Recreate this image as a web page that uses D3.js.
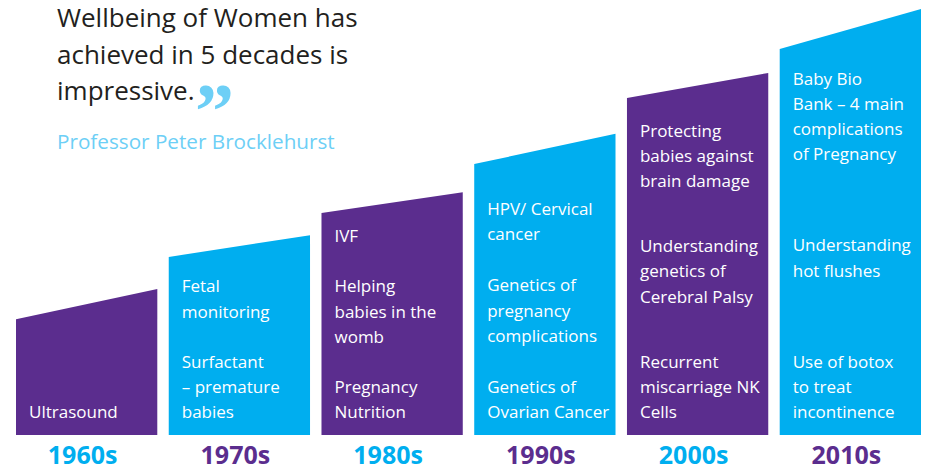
<!DOCTYPE html>
<html>
<head>
<meta charset="utf-8">
<script src="https://cdn.jsdelivr.net/npm/d3@7"></script>
<style>
  body { margin: 0; background: #fff; }
  svg text { font-family: "Open Sans", "Noto Sans", sans-serif; }
</style>
</head>
<body>
<div id="root"></div>
<script>
const width = 935, height = 467;

// decades and the height of each bar's slanted top (left / right edge)
const decades = ["1960s", "1970s", "1980s", "1990s", "2000s", "2010s"];
const topLeft = [27.2, 41.8, 52.1, 63.6, 79.1, 90.6];
const topRight = [34.3, 46.9, 57.0, 70.7, 85.0, 100];

// milestones per decade, grouped
const milestones = [
    [["Ultrasound"]],
    [["Fetal", "monitoring"], ["Surfactant", "– premature", "babies"]],
    [["IVF"], ["Helping", "babies in the", "womb"], ["Pregnancy", "Nutrition"]],
    [["HPV/ Cervical", "cancer"], ["Genetics of", "pregnancy", "complications"], ["Genetics of", "Ovarian Cancer"]],
    [["Protecting", "babies against", "brain damage"], ["Understanding", "genetics of", "Cerebral Palsy"], ["Recurrent", "miscarriage NK", "Cells"]],
    [["Baby Bio", "Bank – 4 main", "complications", "of Pregnancy"], ["Understanding", "hot flushes"], ["Use of botox", "to treat", "incontinence"]]
];

const quoteLines = ["Wellbeing of Women has", "achieved in 5 decades is", "impressive."];
const attribution = "Professor Peter Brocklehurst";

// styling
const purple = "#5b2d8e", cyan = "#00aeef", lightCyan = "#6dcff6";
const barColor = (d, i) => i % 2 === 0 ? purple : cyan;
const labelColor = (d, i) => i % 2 === 0 ? cyan : purple;
const lineH = 25.2;
const groupGap = [50, 50, 50, 51, 65, 91]; // distance between groups, px

const baseY = 435;

const x = d3.scaleBand().domain(decades).range([16, 921]).paddingInner(0.075).paddingOuter(0);
const y = d3.scaleLinear().domain([0, 100]).range([baseY, 9]);

const svg = d3.select("#root").append("svg")
    .attr("width", width)
    .attr("height", height);

// bars with slanted tops
const bars = decades.map((d, i) => ({decade: d, l: topLeft[i], r: topRight[i], items: milestones[i]}));

svg.selectAll(".bar")
    .data(bars)
    .enter()
    .append("path")
    .attr("class", "bar")
    .attr("fill", barColor)
    .attr("d", (d) => {
        let x0 = x(d.decade), x1 = x0 + x.bandwidth();
        return "M" + x0 + "," + y(0) + "L" + x0 + "," + y(d.l) +
            "L" + x1 + "," + y(d.r) + "L" + x1 + "," + y(0) + "Z";
    });

// decade labels
svg.selectAll(".decade")
    .data(bars)
    .enter()
    .append("text")
    .attr("class", "decade")
    .attr("x", (d) => x(d.decade) + x.bandwidth() / 2 - 4)
    .attr("y", 464)
    .attr("text-anchor", "middle")
    .attr("fill", labelColor)
    .style("font-size", "25px")
    .style("font-weight", "bold")
    .text((d) => d.decade);

// milestone text, bottom aligned
bars.forEach((b, i) => {
    let lines = [];
    let yy = 418;
    for (let g = b.items.length - 1; g >= 0; g--) {
        let grp = b.items[g];
        for (let k = grp.length - 1; k >= 0; k--) {
            lines.push({t: grp[k], y: yy});
            if (k > 0) yy -= lineH;
        }
        yy -= groupGap[i];
    }
    svg.append("g")
        .selectAll("text")
        .data(lines)
        .enter()
        .append("text")
        .attr("x", x(b.decade) + 13)
        .attr("y", (d) => d.y)
        .attr("fill", "#fff")
        .style("font-size", "17px")
        .text((d) => d.t);
});

// quote
const quote = svg.append("g");
quote.selectAll("text")
    .data(quoteLines)
    .enter()
    .append("text")
    .attr("x", 57)
    .attr("y", (d, i) => 27 + i * 36.5)
    .attr("fill", "#231f20")
    .style("font-size", "26px")
    .text((d) => d);

// closing quote mark
quote.append("text")
    .attr("x", 195)
    .attr("y", 137)
    .attr("fill", lightCyan)
    .style("font-family", "'Liberation Serif', serif")
    .style("font-size", "78px")
    .style("font-weight", "bold")
    .text("\u201D");

quote.append("text")
    .attr("x", 57)
    .attr("y", 149)
    .attr("fill", lightCyan)
    .style("font-size", "20.7px")
    .text(attribution);
</script>
</body>
</html>
